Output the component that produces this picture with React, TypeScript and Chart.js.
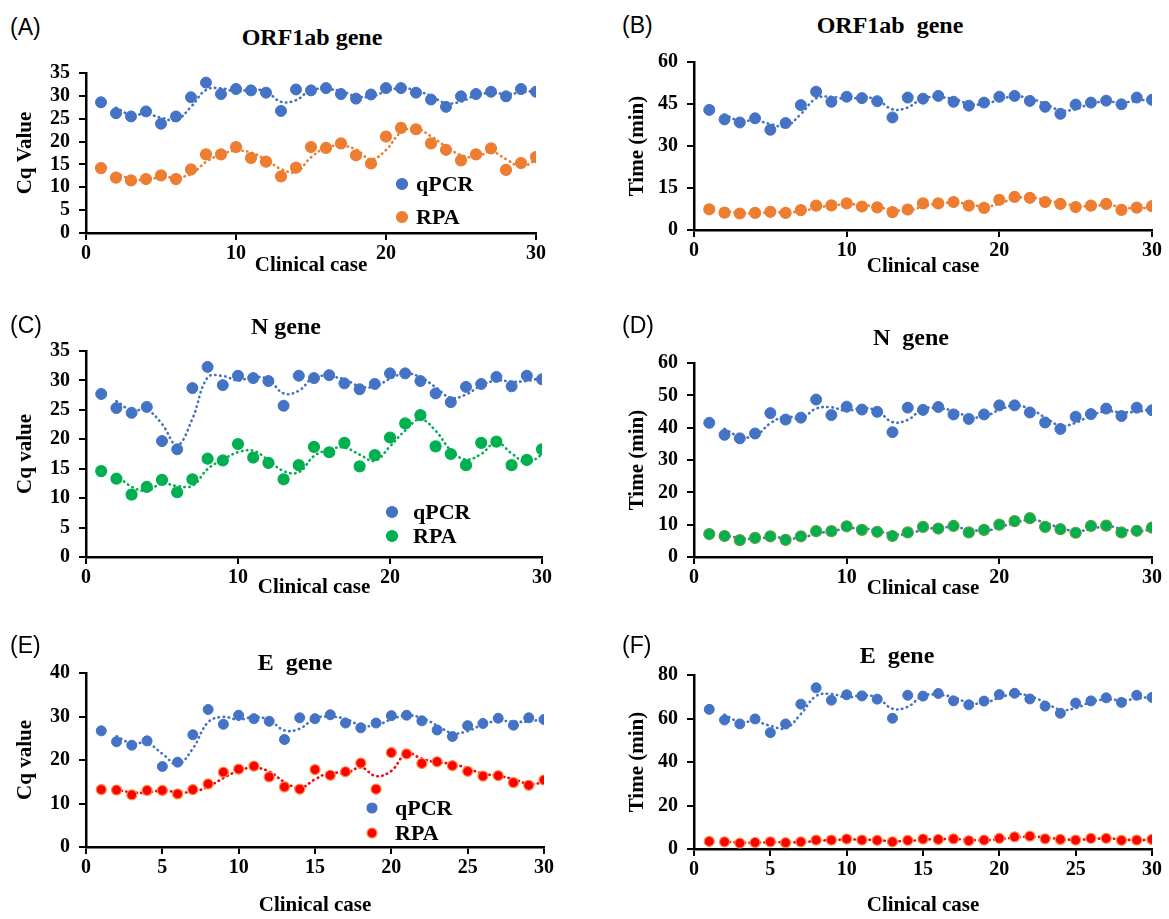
import React, { useEffect, useRef } from "react";
import { Chart, registerables } from "chart.js";

Chart.register(...registerables);

// ---------- data ----------
const clinicalCases = [1, 2, 3, 4, 5, 6, 7, 8, 9, 10, 11, 12, 13, 14, 15, 16, 17, 18, 19, 20, 21, 22, 23, 24, 25, 26, 27, 28, 29, 30];

const orf1abCqQpcr = [28.6, 26.2, 25.5, 26.6, 23.9, 25.5, 29.7, 32.9, 30.4, 31.5, 31.2, 30.7, 26.7, 31.4, 31.2, 31.7, 30.4, 29.4, 30.3, 31.7, 31.7, 30.7, 29.2, 27.6, 29.9, 30.4, 30.9, 29.9, 31.5, 30.9];
const orf1abCqRpa = [14.2, 12.1, 11.5, 11.8, 12.6, 11.8, 13.9, 17.2, 17.2, 18.8, 16.4, 15.6, 12.4, 14.3, 18.8, 18.6, 19.6, 17.0, 15.2, 21.1, 23.0, 22.7, 19.6, 18.2, 15.9, 17.2, 18.5, 13.8, 15.3, 16.6];

const orf1abTimeQpcr = [42.9, 39.5, 38.4, 39.9, 35.8, 38.2, 44.6, 49.4, 45.8, 47.6, 47.1, 46.0, 40.2, 47.3, 46.9, 47.9, 45.8, 44.4, 45.5, 47.6, 47.9, 46.1, 44.0, 41.5, 44.8, 45.5, 46.2, 44.9, 47.3, 46.5];
const orf1abTimeRpa = [7.4, 6.2, 5.9, 6.1, 6.5, 6.1, 7.1, 8.7, 8.8, 9.5, 8.4, 8.1, 6.4, 7.3, 9.5, 9.5, 10.0, 8.7, 7.9, 10.8, 11.8, 11.5, 10.0, 9.3, 8.2, 8.7, 9.3, 7.2, 8.0, 8.5];

const nCqQpcr = [27.7, 25.3, 24.5, 25.5, 19.7, 18.3, 28.7, 32.3, 29.2, 30.8, 30.4, 29.9, 25.7, 30.8, 30.4, 30.9, 29.5, 28.5, 29.4, 31.2, 31.2, 29.9, 27.8, 26.3, 28.9, 29.4, 30.6, 29.0, 30.8, 30.2];
const nCqRpa = [14.6, 13.3, 10.6, 11.9, 13.1, 11.0, 13.2, 16.7, 16.4, 19.2, 16.9, 16.0, 13.2, 15.6, 18.7, 17.8, 19.4, 15.4, 17.3, 20.3, 22.7, 24.1, 18.8, 17.5, 15.6, 19.4, 19.6, 15.6, 16.5, 18.3];

const nTimeQpcr = [41.5, 37.8, 36.7, 38.2, 44.5, 42.5, 43.1, 48.7, 43.9, 46.5, 45.6, 44.9, 38.6, 46.2, 45.5, 46.4, 44.1, 42.7, 44.1, 46.9, 46.9, 44.7, 41.6, 39.6, 43.4, 44.2, 45.9, 43.6, 46.2, 45.4];
const nTimeRpa = [7.1, 6.5, 5.2, 5.9, 6.4, 5.3, 6.4, 8.0, 8.0, 9.5, 8.4, 7.8, 6.5, 7.6, 9.3, 8.8, 9.6, 7.6, 8.4, 10.0, 11.1, 12.0, 9.3, 8.6, 7.5, 9.6, 9.7, 7.6, 8.1, 9.1];

const eCqQpcr = [26.7, 24.2, 23.4, 24.4, 18.5, 19.5, 25.8, 31.6, 28.2, 30.3, 29.5, 28.9, 24.7, 29.7, 29.5, 30.4, 28.5, 27.4, 28.5, 30.2, 30.3, 29.0, 26.9, 25.4, 27.9, 28.4, 29.6, 28.0, 29.7, 29.3];
const eCqRpa = [13.2, 13.1, 12.0, 13.0, 13.0, 12.2, 13.2, 14.5, 17.2, 17.9, 18.6, 16.1, 13.8, 13.3, 17.8, 16.5, 17.3, 19.3, 13.3, 21.7, 21.4, 19.2, 19.6, 18.7, 17.4, 16.3, 16.4, 14.8, 14.2, 15.4];

const eTimeQpcr = [64.2, 59.3, 57.5, 59.8, 53.5, 57.5, 66.6, 74.1, 68.4, 70.9, 70.4, 68.9, 60.1, 70.7, 70.3, 71.5, 68.1, 66.3, 68.0, 71.0, 71.6, 69.0, 65.7, 62.4, 67.1, 68.1, 69.5, 67.4, 70.7, 69.7];
const eTimeRpa = [3.5, 3.3, 2.7, 3.0, 3.3, 2.9, 3.3, 4.1, 4.1, 4.6, 4.1, 4.0, 3.3, 4.0, 4.6, 4.4, 4.7, 3.8, 4.1, 4.9, 5.6, 5.9, 4.7, 4.4, 4.1, 4.9, 4.9, 4.0, 4.1, 4.4];

const seriesNames = ["qPCR", "RPA"];
const xAxisTitle = "Clinical case";

// ---------- style ----------
const BLUE = "#4472C4";
const ORANGE = "#ED7D31";
const GREEN = "#00B050";
const RED = "#FF0000";
const SERIF = "'Liberation Serif', 'Times New Roman', serif";
const SANS = "'Liberation Sans', Arial, sans-serif";

type Rect = { left: number; top: number; right: number; bottom: number };
type Panel = {
  letter: string;
  letterPos: [number, number];
  title: string;
  titlePos: [number, number];
  canvas: { left: number; top: number; width: number; height: number };
  plot: Rect;
  yMax: number;
  yStep: number;
  xStep: number;
  yTitle: string;
  yTitleX: number;
  xTitleY: number;
  qpcr: number[];
  rpa: number[];
  rpaFill: string;
  rpaBorder: string;
  rpaTrend: string;
  radius: number;
  legend?: { mx: number; y1: number; y2: number; tx: number };
};

const panels: Panel[] = [
  {
    letter: "(A)", letterPos: [10, 27], title: "ORF1ab gene", titlePos: [312, 37],
    canvas: { left: 0, top: 50, width: 580, height: 235 },
    plot: { left: 86, top: 73, right: 536, bottom: 233 },
    yMax: 35, yStep: 5, xStep: 10, yTitle: "Cq Value", yTitleX: 26, xTitleY: 266,
    qpcr: orf1abCqQpcr, rpa: orf1abCqRpa, rpaFill: ORANGE, rpaBorder: ORANGE, rpaTrend: ORANGE, radius: 5.5,
    legend: { mx: 402, y1: 184, y2: 217, tx: 416 },
  },
  {
    letter: "(B)", letterPos: [622, 25], title: "ORF1ab  gene", titlePos: [890, 25],
    canvas: { left: 585, top: 40, width: 584, height: 243 },
    plot: { left: 694, top: 62, right: 1152, bottom: 230 },
    yMax: 60, yStep: 15, xStep: 10, yTitle: "Time (min)", yTitleX: 638, xTitleY: 267,
    qpcr: orf1abTimeQpcr, rpa: orf1abTimeRpa, rpaFill: ORANGE, rpaBorder: ORANGE, rpaTrend: ORANGE, radius: 5.5,
  },
  {
    letter: "(C)", letterPos: [10, 325], title: "N gene", titlePos: [286, 326],
    canvas: { left: 0, top: 330, width: 580, height: 279 },
    plot: { left: 86, top: 350, right: 542, bottom: 557 },
    yMax: 35, yStep: 5, xStep: 10, yTitle: "Cq value", yTitleX: 26, xTitleY: 588,
    qpcr: nCqQpcr, rpa: nCqRpa, rpaFill: GREEN, rpaBorder: GREEN, rpaTrend: GREEN, radius: 5.5,
    legend: { mx: 392, y1: 512, y2: 536, tx: 413 },
  },
  {
    letter: "(D)", letterPos: [622, 325], title: "N  gene", titlePos: [911, 337],
    canvas: { left: 585, top: 342, width: 584, height: 269 },
    plot: { left: 694, top: 362, right: 1152, bottom: 557 },
    yMax: 60, yStep: 10, xStep: 10, yTitle: "Time (min)", yTitleX: 638, xTitleY: 589,
    qpcr: nTimeQpcr, rpa: nTimeRpa, rpaFill: GREEN, rpaBorder: "#5E9E3A", rpaTrend: BLUE, radius: 5.5,
  },
  {
    letter: "(E)", letterPos: [10, 645], title: "E  gene", titlePos: [295, 662],
    canvas: { left: 0, top: 652, width: 580, height: 267 },
    plot: { left: 86, top: 672, right: 544, bottom: 847 },
    yMax: 40, yStep: 10, xStep: 5, yTitle: "Cq value", yTitleX: 26, xTitleY: 906,
    qpcr: eCqQpcr, rpa: eCqRpa, rpaFill: RED, rpaBorder: "#FF8A3D", rpaTrend: RED, radius: 5,
    legend: { mx: 372, y1: 808, y2: 833, tx: 395 },
  },
  {
    letter: "(F)", letterPos: [622, 645], title: "E  gene", titlePos: [897, 655],
    canvas: { left: 585, top: 654, width: 584, height: 265 },
    plot: { left: 694, top: 674, right: 1152, bottom: 849 },
    yMax: 80, yStep: 20, xStep: 5, yTitle: "Time (min)", yTitleX: 638, xTitleY: 906,
    qpcr: eTimeQpcr, rpa: eTimeRpa, rpaFill: RED, rpaBorder: "#FF8A3D", rpaTrend: RED, radius: 5,
  },
];

// two-period moving-average trendline (as in the source figure)
function movingAverage2(values: number[]) {
  const out: { x: number; y: number }[] = [];
  for (let i = 1; i < values.length; i++) {
    out.push({ x: clinicalCases[i], y: (values[i - 1] + values[i]) / 2 });
  }
  return out;
}

function toPoints(values: number[]) {
  return values.map((v, i) => ({ x: clinicalCases[i], y: v }));
}

const TICK_FONT = { family: SERIF, size: 20, weight: "bold" as const };
const AXIS_TITLE_FONT = { family: SERIF, size: 21, weight: "bold" as const };

function PanelChart({ p }: { p: Panel }) {
  const ref = useRef<HTMLCanvasElement | null>(null);
  useEffect(() => {
    if (!ref.current) return;
    const c = p.canvas;
    const titleLH = AXIS_TITLE_FONT.size * 1.2;
    const canvasBottom = c.top + c.height;
    const xScaleHeight = canvasBottom - p.plot.bottom;
    const yScaleWidth = p.plot.left - c.left;
    const xTitlePadBottom = Math.max(0, canvasBottom - p.xTitleY - titleLH / 2);
    const yTitlePadTop = Math.max(0, p.yTitleX - c.left - titleLH / 2);

    const legendPlugin = {
      id: "inlineLegend",
      afterDraw(chart: any) {
        if (!p.legend) return;
        const ctx = chart.ctx;
        const L = p.legend;
        const items = [
          { label: seriesNames[0], fill: BLUE, border: BLUE, y: L.y1 },
          { label: seriesNames[1], fill: p.rpaFill, border: p.rpaBorder, y: L.y2 },
        ];
        ctx.save();
        items.forEach((it) => {
          const mx = L.mx - c.left;
          const my = it.y - c.top;
          ctx.beginPath();
          ctx.arc(mx, my, p.radius, 0, Math.PI * 2);
          ctx.fillStyle = it.fill;
          ctx.fill();
          ctx.lineWidth = 1.2;
          ctx.strokeStyle = it.border;
          ctx.stroke();
          ctx.font = `bold 22px ${SERIF}`;
          ctx.fillStyle = "#000";
          ctx.textAlign = "left";
          ctx.textBaseline = "middle";
          ctx.fillText(it.label, L.tx - c.left, my + 1);
        });
        ctx.restore();
      },
    };

    const chart = new Chart(ref.current, {
      type: "scatter",
      data: {
        datasets: [
          {
            label: seriesNames[0],
            data: toPoints(p.qpcr),
            backgroundColor: BLUE,
            borderColor: BLUE,
            pointRadius: p.radius,
            pointBorderWidth: 1,
            showLine: false,
            order: 0,
          },
          {
            label: seriesNames[1],
            data: toPoints(p.rpa),
            backgroundColor: p.rpaFill,
            borderColor: p.rpaBorder,
            pointRadius: p.radius,
            pointBorderWidth: 1.2,
            showLine: false,
            order: 0,
          },
          {
            label: seriesNames[0] + " trend",
            data: movingAverage2(p.qpcr),
            showLine: true,
            borderColor: BLUE,
            borderWidth: 2.6,
            borderDash: [0.5, 4.5],
            borderCapStyle: "round",
            pointRadius: 0,
            tension: 0.4,
            fill: false,
            order: 1,
          },
          {
            label: seriesNames[1] + " trend",
            data: movingAverage2(p.rpa),
            showLine: true,
            borderColor: p.rpaTrend,
            borderWidth: 2.6,
            borderDash: [0.5, 4.5],
            borderCapStyle: "round",
            pointRadius: 0,
            tension: 0.4,
            fill: false,
            order: 1,
          },
        ] as any,
      },
      options: {
        animation: false,
        responsive: false,
        maintainAspectRatio: false,
        events: [],
        layout: {
          padding: {
            left: 0,
            top: p.plot.top - c.top,
            right: c.left + c.width - p.plot.right,
            bottom: 0,
          },
        },
        plugins: {
          legend: { display: false },
          tooltip: { enabled: false },
          title: { display: false },
        },
        scales: {
          x: {
            type: "linear",
            min: 0,
            max: 30,
            ticks: { stepSize: p.xStep, color: "#000", font: TICK_FONT, padding: 2, maxRotation: 0, autoSkip: false },
            grid: { drawOnChartArea: false, drawTicks: true, tickLength: 7, color: "#000", lineWidth: 2 },
            border: { display: true, color: "#000", width: 2.5 },
            title: {
              display: true,
              text: xAxisTitle,
              color: "#000",
              font: AXIS_TITLE_FONT,
              padding: { top: 0, bottom: xTitlePadBottom },
            },
            afterFit: (s: any) => {
              s.height = xScaleHeight;
            },
          },
          y: {
            type: "linear",
            min: 0,
            max: p.yMax,
            ticks: { stepSize: p.yStep, color: "#000", font: TICK_FONT, padding: 9, autoSkip: false },
            grid: { drawOnChartArea: false, drawTicks: true, tickLength: 7, color: "#000", lineWidth: 2 },
            border: { display: true, color: "#000", width: 2.5 },
            title: {
              display: true,
              text: p.yTitle,
              color: "#000",
              font: AXIS_TITLE_FONT,
              padding: { top: yTitlePadTop, bottom: 0 },
            },
            afterFit: (s: any) => {
              s.width = yScaleWidth;
            },
          },
        },
      } as any,
      plugins: [legendPlugin],
    });
    return () => chart.destroy();
  }, [p]);

  return (
    <canvas
      ref={ref}
      width={p.canvas.width}
      height={p.canvas.height}
      style={{
        position: "absolute",
        left: p.canvas.left,
        top: p.canvas.top,
        width: p.canvas.width,
        height: p.canvas.height,
      }}
    />
  );
}

export default function App() {
  return (
    <div
      style={{
        position: "absolute",
        left: 0,
        top: 0,
        width: 1169,
        height: 919,
        background: "#fff",
        overflow: "hidden",
      }}
    >
      {panels.map((p, i) => (
        <React.Fragment key={i}>
          <PanelChart p={p} />
          <div
            style={{
              position: "absolute",
              left: p.letterPos[0],
              top: p.letterPos[1],
              transform: "translateY(-50%)",
              fontFamily: SANS,
              fontSize: 23,
              color: "#000",
              whiteSpace: "pre",
              lineHeight: 1,
            }}
          >
            {p.letter}
          </div>
          <div
            style={{
              position: "absolute",
              left: p.titlePos[0],
              top: p.titlePos[1],
              transform: "translate(-50%, -50%)",
              fontFamily: SERIF,
              fontWeight: "bold",
              fontSize: 24,
              color: "#000",
              whiteSpace: "pre",
              lineHeight: 1,
            }}
          >
            {p.title}
          </div>
        </React.Fragment>
      ))}
    </div>
  );
}
